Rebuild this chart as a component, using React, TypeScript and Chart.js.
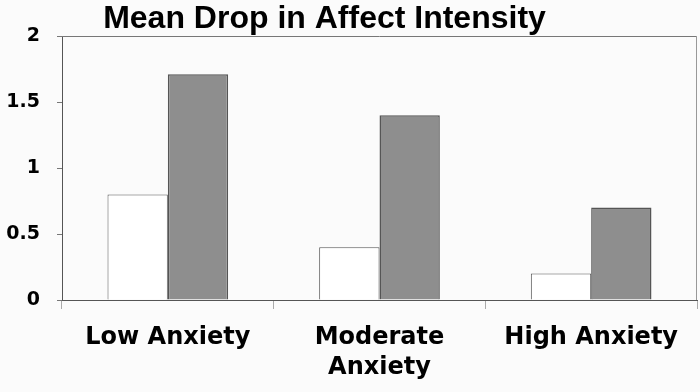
import React, { useEffect, useRef } from "react";
import { Chart, registerables } from "chart.js";

Chart.register(...registerables);

const TITLE = "Mean Drop in Affect Intensity";
const categories: (string | string[])[] = ["Low Anxiety", ["Moderate", "Anxiety"], "High Anxiety"];
const seriesA = [0.8, 0.4, 0.2];
const seriesB = [1.71, 1.4, 0.7];
const yTicks = [0, 0.5, 1, 1.5, 2];

const framePlugin = {
  id: "frame",
  afterDatasetsDraw(chart: any) {
    const { ctx, chartArea } = chart;
    ctx.save();
    ctx.lineWidth = 1;
    ctx.strokeStyle = "#777";
    ctx.beginPath();
    ctx.moveTo(chartArea.left, chartArea.top + 0.5);
    ctx.lineTo(chartArea.right, chartArea.top + 0.5);
    ctx.stroke();
    ctx.strokeStyle = "#999";
    ctx.beginPath();
    ctx.moveTo(chartArea.right - 0.5, chartArea.top);
    ctx.lineTo(chartArea.right - 0.5, chartArea.bottom);
    ctx.stroke();
    ctx.restore();
  },
};

const titlePlugin = {
  id: "customTitle",
  afterDraw(chart: any) {
    const { ctx, chartArea } = chart;
    ctx.save();
    ctx.font = "bold 32px 'Liberation Sans', Arial, sans-serif";
    ctx.fillStyle = "#000";
    ctx.textAlign = "center";
    ctx.textBaseline = "alphabetic";
    ctx.fillText(TITLE, (chartArea.left + chartArea.right) / 2 - 55, 28);
    ctx.restore();
  },
};

const bgPlugin = {
  id: "bg",
  beforeDraw(chart: any) {
    const { ctx, width, height } = chart;
    ctx.save();
    ctx.fillStyle = "#fbfbfb";
    ctx.fillRect(0, 0, width, height);
    ctx.restore();
  },
};

export default function App() {
  const ref = useRef<HTMLCanvasElement>(null);
  useEffect(() => {
    document.body.style.margin = "0";
    const chart = new Chart(ref.current!, {
      type: "bar",
      data: {
        labels: categories as any,
        datasets: [
          {
            data: seriesA,
            backgroundColor: "#ffffff",
            borderColor: "#555",
            borderWidth: 1,
            categoryPercentage: 0.57,
            barPercentage: 1,
          },
          {
            data: seriesB,
            backgroundColor: "#8e8e8e",
            borderColor: "#555",
            borderWidth: 1.5,
            categoryPercentage: 0.57,
            barPercentage: 1,
          },
        ],
      },
      options: {
        animation: false,
        responsive: false,
        maintainAspectRatio: false,
        layout: { padding: { top: 36, right: 3, left: 0, bottom: 0 } },
        plugins: { legend: { display: false }, tooltip: { enabled: false }, title: { display: false } },
        scales: {
          x: {
            grid: { offset: true, drawOnChartArea: false, drawTicks: true, tickLength: 9, color: "#aaa" },
            border: { display: true, color: "#555" },
            ticks: {
              color: "#000",
              padding: 14,
              maxRotation: 0,
              autoSkip: false,
              font: { family: "'DejaVu Sans', Verdana, sans-serif", weight: "bold", size: 24, lineHeight: 1.25 },
            },
            afterFit: (s: any) => {
              s.height = 92;
            },
          },
          y: {
            min: 0,
            max: 2,
            afterBuildTicks: (s: any) => {
              s.ticks = yTicks.map((v) => ({ value: v }));
            },
            grid: { drawOnChartArea: false, drawTicks: true, tickLength: 5, color: "#777" },
            border: { display: true, color: "#555" },
            ticks: {
              color: "#000",
              padding: 17,
              callback: (v: any) => String(v),
              font: { family: "'DejaVu Sans', Verdana, sans-serif", weight: "bold", size: 19 },
            },
            afterFit: (s: any) => {
              s.width = 62;
            },
          },
        },
      },
      plugins: [bgPlugin, framePlugin, titlePlugin],
    });
    return () => chart.destroy();
  }, []);
  return (
    <div style={{ width: 700, height: 392 }}>
      <canvas ref={ref} width={700} height={392} style={{ display: "block" }} />
    </div>
  );
}
